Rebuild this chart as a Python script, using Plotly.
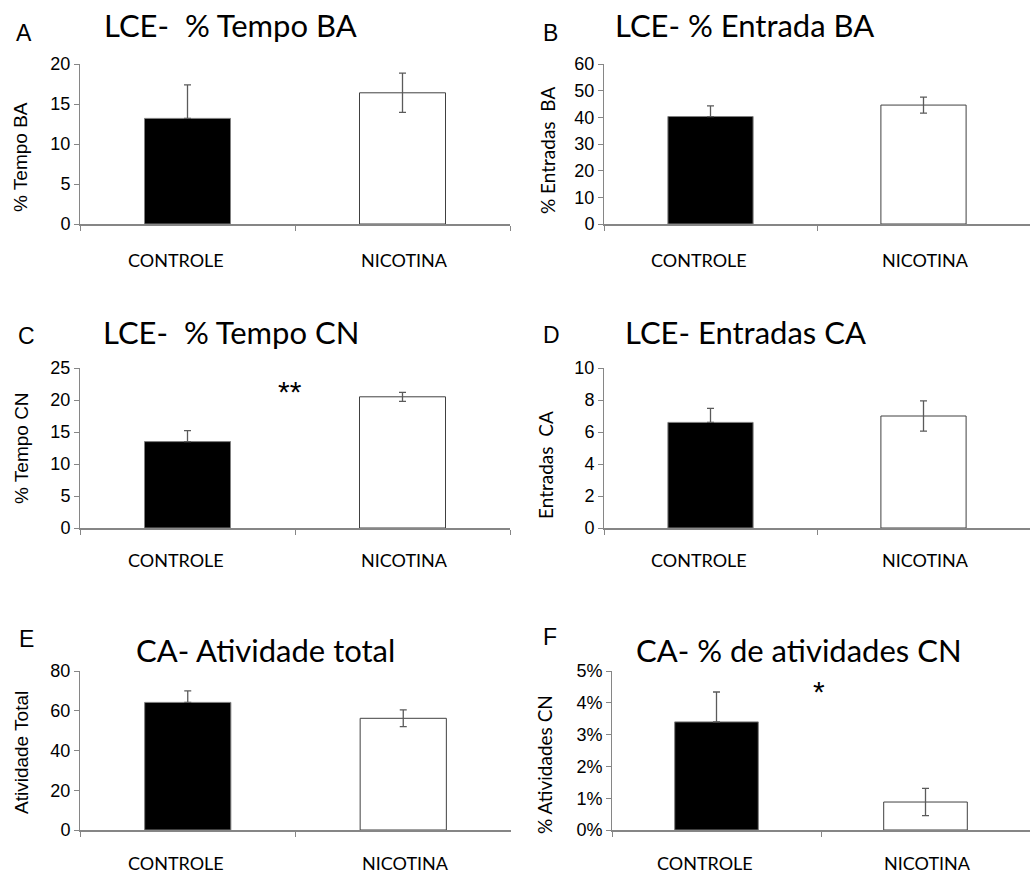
import plotly.graph_objects as go

W, H = 1030, 875

groups = ["CONTROLE", "NICOTINA"]

# mean and SEM per group
tempo_ba = [13.2, 16.4]
tempo_ba_sem = [4.2, 2.45]
entrada_ba = [40.3, 44.6]
entrada_ba_sem = [4.0, 3.0]
tempo_cn = [13.5, 20.5]
tempo_cn_sem = [1.7, 0.7]
entradas_ca = [6.6, 7.0]
entradas_ca_sem = [0.88, 0.95]
atividade_total = [64.2, 56.2]
atividade_total_sem = [5.8, 4.2]
atividades_cn = [0.034, 0.0088]
atividades_cn_sem = [0.0094, 0.0043]

letters = ["A", "B", "C", "D", "E", "F"]
titles = ["LCE-  % Tempo BA", "LCE- % Entrada BA", "LCE-  % Tempo CN",
          "LCE- Entradas CA", "CA- Atividade total", "CA- % de atividades CN"]
ytitles = ["% Tempo BA", "% Entradas  BA", "% Tempo CN",
           "Entradas  CA", "Atividade Total", "% Atividades CN"]
significance = ["", "", "**", "", "", "*"]

panels = [
    dict(mean=tempo_ba, sem=tempo_ba_sem, ymax=20, dtick=5, fmt="",
         box=(80, 510, 64, 224), title_xy=(230, 25), letter_xy=(24, 33),
         ytitle_xy=(20, 157), ytitle_font="Liberation Sans", star_xy=None,
         label_y=260),
    dict(mean=entrada_ba, sem=entrada_ba_sem, ymax=60, dtick=10, fmt="",
         box=(604, 1030, 64, 224), title_xy=(744, 25), letter_xy=(550, 33),
         ytitle_xy=(547, 151), ytitle_font="Lato", star_xy=None,
         label_y=260),
    dict(mean=tempo_cn, sem=tempo_cn_sem, ymax=25, dtick=5, fmt="",
         box=(80, 510, 368, 528), title_xy=(231, 332), letter_xy=(26, 336),
         ytitle_xy=(21, 448), ytitle_font="Liberation Sans", star_xy=(290, 392),
         label_y=560),
    dict(mean=entradas_ca, sem=entradas_ca_sem, ymax=10, dtick=2, fmt="",
         box=(604, 1030, 368, 528), title_xy=(745, 332), letter_xy=(551, 335),
         ytitle_xy=(545, 465), ytitle_font="Lato", star_xy=None,
         label_y=560),
    dict(mean=atividade_total, sem=atividade_total_sem, ymax=80, dtick=20, fmt="",
         box=(80, 511, 671, 830), title_xy=(265, 650), letter_xy=(26, 639),
         ytitle_xy=(21, 753), ytitle_font="Liberation Sans", star_xy=None,
         label_y=863),
    dict(mean=atividades_cn, sem=atividades_cn_sem, ymax=0.05, dtick=0.01, fmt=".0%",
         box=(612, 1030, 671, 830), title_xy=(799, 650), letter_xy=(550, 637),
         ytitle_xy=(544, 765), ytitle_font="Lato", star_xy=(819, 691),
         label_y=863),
]

# horizontal nudge of the category labels (px)
label_shift = [-12, 2]

AXIS_GREY = "#868686"
fig = go.Figure()
annotations = []


def px(x):
    return x / W


def py(y):
    return 1 - y / H


for i, p in enumerate(panels):
    n = "" if i == 0 else str(i + 1)
    x0, x1, y0, y1 = p["box"]
    fig.add_trace(go.Bar(
        x=groups, y=p["mean"], width=0.4,
        marker=dict(color=["black", "white"],
                    line=dict(color=["#7f7f7f", "#404040"], width=1)),
        error_y=dict(type="data", symmetric=False, array=p["sem"],
                     arrayminus=[0, p["sem"][1]], color="#5a5a5a",
                     thickness=1.3, width=3.5),
        xaxis="x" + n, yaxis="y" + n, showlegend=False,
    ))
    fig.layout["xaxis" + n] = dict(
        domain=[px(x0), px(x1)], anchor="y" + n, type="category",
        range=[-0.5, 1.5], tickson="boundaries", ticks="outside", ticklen=5,
        tickcolor=AXIS_GREY, showline=True, linecolor=AXIS_GREY, linewidth=1.5,
        showgrid=False, zeroline=False, showticklabels=False, automargin=False,
    )
    fig.layout["yaxis" + n] = dict(
        domain=[py(y1), py(y0)], anchor="x" + n, range=[0, p["ymax"]],
        tick0=0, dtick=p["dtick"], tickformat=p["fmt"], ticks="outside",
        ticklen=5, tickcolor=AXIS_GREY, showline=True, linecolor=AXIS_GREY,
        linewidth=1, showgrid=False, zeroline=False, automargin=False,
        tickfont=dict(family="Liberation Sans", size=18, color="black"),
    )
    # category labels below the axis
    for g, shift in zip(groups, label_shift):
        annotations.append(dict(text=g, x=g, xref="x" + n, y=py(p["label_y"]),
                                yref="paper", xshift=shift, showarrow=False,
                                xanchor="center", yanchor="middle",
                                font=dict(family="Lato", size=18, color="black")))
    tx, ty = p["title_xy"]
    annotations.append(dict(text=titles[i], x=px(tx), y=py(ty), xref="paper",
                            yref="paper", showarrow=False, xanchor="center",
                            yanchor="middle",
                            font=dict(family="Lato", size=31, color="black")))
    lx, ly = p["letter_xy"]
    annotations.append(dict(text=letters[i], x=px(lx), y=py(ly), xref="paper",
                            yref="paper", showarrow=False, xanchor="center",
                            yanchor="middle",
                            font=dict(family="Liberation Sans", size=23,
                                      color="black")))
    yx, yy = p["ytitle_xy"]
    annotations.append(dict(text=ytitles[i], x=px(yx), y=py(yy), xref="paper",
                            yref="paper", showarrow=False, textangle=-90,
                            xanchor="center", yanchor="middle",
                            font=dict(family=p["ytitle_font"], size=19,
                                      color="black")))
    if significance[i]:
        sx, sy = p["star_xy"]
        annotations.append(dict(text=significance[i], x=px(sx), y=py(sy),
                                xref="paper", yref="paper", showarrow=False,
                                xanchor="center", yanchor="middle",
                                font=dict(family="Liberation Sans", size=30,
                                          color="black")))

fig.update_layout(
    width=W, height=H, margin=dict(l=0, r=0, t=0, b=0),
    paper_bgcolor="white", plot_bgcolor="white",
    annotations=annotations, bargap=0.6,
)

fig.write_html("out.html")
